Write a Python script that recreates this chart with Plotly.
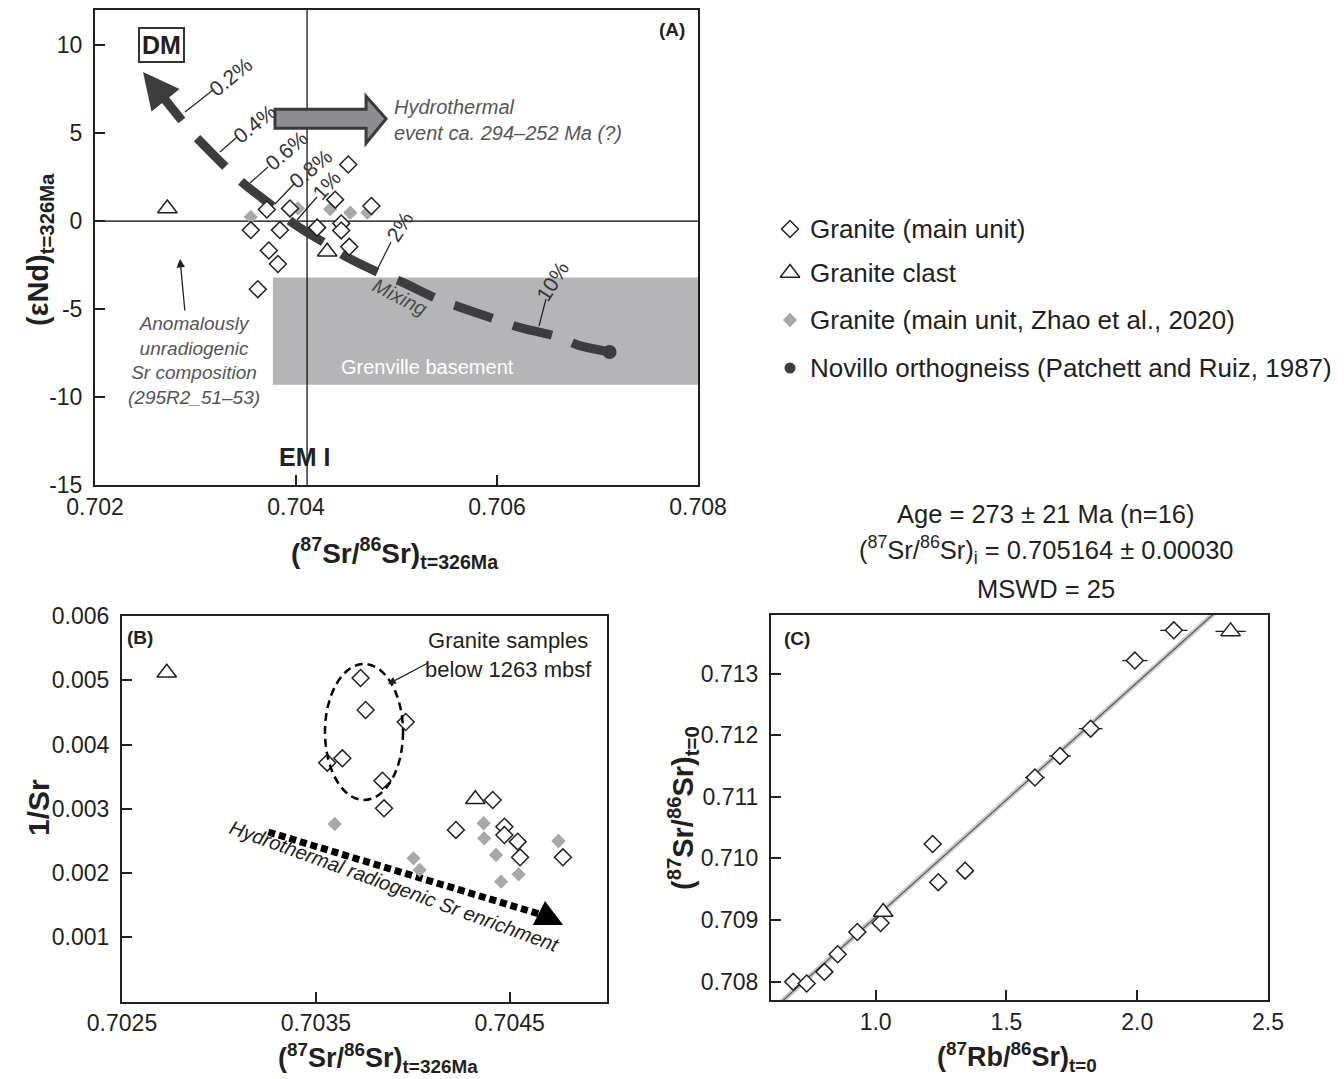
import plotly.graph_objects as go

W, H = 1344, 1079
FONT = "Liberation Sans, Arial, sans-serif"
INK = "#231f20"
DARK = "#3d3d3f"
GREY_PT = "#a8a8aa"
BASEMENT = "#b5b5b7"

# ---------------- data: panel A ----------------
a_main_sr = [0.70452, 0.70439, 0.70475, 0.70371, 0.70394, 0.70355, 0.70384,
             0.70421, 0.70445, 0.70445, 0.70453, 0.70373, 0.70382, 0.70362]
a_main_nd = [3.22, 1.22, 0.86, 0.66, 0.72, -0.51, -0.51,
             -0.37, -0.13, -0.53, -1.46, -1.67, -2.44, -3.87]
a_clast_sr = [0.70272, 0.70431]
a_clast_nd = [0.72, -1.74]
a_zhao_sr = [0.70355, 0.70402, 0.70434, 0.70454, 0.70471]
a_zhao_nd = [0.24, 0.72, 0.68, 0.48, 0.48]
novillo_sr = [0.70712]
novillo_nd = [-7.44]
mix_sr = [0.703015, 0.703313, 0.703473, 0.703791, 0.70397, 0.704318, 0.704507, 0.704856,
          0.705055, 0.705433, 0.705632, 0.70601, 0.706209, 0.706607, 0.706806, 0.707124]
mix_nd = [4.72, 3.01, 2.16, 0.74, -0.11, -1.36, -2.05, -3.01,
          -3.47, -4.49, -4.89, -5.63, -6.02, -6.59, -7.05, -7.44]
dm_arrow_sr = [0.702876, 0.702478]
dm_arrow_nd = [5.63, 8.47]
basement_sr = [0.70377, 0.708]
basement_nd = [-9.3, -3.2]
emi_sr = 0.70411
a_xticks = [0.702, 0.704, 0.706, 0.708]
a_yticks = [-15, -10, -5, 0, 5, 10]

# ---------------- data: panel B ----------------
b_main_sr = [0.703559, 0.703637, 0.703731, 0.703757, 0.703964, 0.703844, 0.703852,
             0.704413, 0.704223, 0.704473, 0.704473, 0.704542, 0.704554, 0.704775]
b_main_inv = [0.003717, 0.003785, 0.005035, 0.004537, 0.00435, 0.003437, 0.003007,
              0.003136, 0.00267, 0.00272, 0.00259, 0.002488, 0.002244, 0.002244]
b_clast_sr = [0.702731, 0.704323]
b_clast_inv = [0.005118, 0.003147]
b_zhao_sr = [0.703598, 0.704004, 0.704036, 0.704366, 0.704369, 0.70443, 0.704456, 0.704547, 0.704752]
b_zhao_inv = [0.002763, 0.002229, 0.002047, 0.002774, 0.00254, 0.00228, 0.001865, 0.00198, 0.002498]
b_trend_sr = [0.703255, 0.704704]
b_trend_inv = [0.002638, 0.001315]
b_xticks = [0.7025, 0.7035, 0.7045]
b_yticks = [0.001, 0.002, 0.003, 0.004, 0.005, 0.006]

# ---------------- data: panel C ----------------
c_main_rb = [0.685, 0.7365, 0.804, 0.855, 0.93, 1.019, 1.218, 1.2395, 1.342,
             1.609, 1.705, 1.822, 1.991, 2.14]
c_main_sr = [0.707995, 0.707968, 0.708157, 0.708442, 0.708804, 0.70895, 0.710233, 0.709613, 0.7098,
             0.711312, 0.711662, 0.712105, 0.71321, 0.713701]
c_main_err = [0.03, 0.03, 0.03, 0.03, 0.03, 0.03, 0.03, 0.03, 0.03,
              0.038, 0.042, 0.045, 0.048, 0.052]
c_clast_rb = [1.029, 2.357]
c_clast_sr = [0.709128, 0.713684]
c_clast_err = [0.03, 0.058]
isochron_rb = [0.6, 2.5]
isochron_sr = [0.70752, 0.71476]
c_xticks = [1.0, 1.5, 2.0, 2.5]
c_yticks = [0.708, 0.709, 0.710, 0.711, 0.712, 0.713]

legend_labels = ["Granite (main unit)", "Granite clast",
                 "Granite (main unit, Zhao et al., 2020)",
                 "Novillo orthogneiss (Patchett and Ruiz, 1987)"]


def px(x):
    return x / W


def py(y):
    return 1 - y / H


open_diamond = dict(symbol="diamond", size=13, color="white", line=dict(color=INK, width=1.5))
open_tri = dict(symbol="triangle-up", size=17, color="white", line=dict(color=INK, width=1.5))
grey_diamond = dict(symbol="diamond", size=11, color=GREY_PT, line=dict(width=0))

fig = go.Figure()

# ---- Panel A ----
fig.add_trace(go.Scatter(x=mix_sr, y=mix_nd, mode="lines", xaxis="x", yaxis="y",
                         line=dict(color=DARK, width=9, dash="40px,22px", shape="spline"),
                         hoverinfo="skip", showlegend=False))
fig.add_trace(go.Scatter(x=novillo_sr, y=novillo_nd, mode="markers", xaxis="x", yaxis="y",
                         marker=dict(symbol="circle", size=14, color=DARK), showlegend=False))
fig.add_trace(go.Scatter(x=a_zhao_sr, y=a_zhao_nd, mode="markers", xaxis="x", yaxis="y",
                         marker=grey_diamond, showlegend=False))
fig.add_trace(go.Scatter(x=a_main_sr, y=a_main_nd, mode="markers", xaxis="x", yaxis="y",
                         marker=open_diamond, showlegend=False))
fig.add_trace(go.Scatter(x=a_clast_sr, y=a_clast_nd, mode="markers", xaxis="x", yaxis="y",
                         marker=open_tri, showlegend=False))

# ---- Panel B ----
fig.add_trace(go.Scatter(x=b_trend_sr, y=b_trend_inv, mode="lines", xaxis="x2", yaxis="y2",
                         line=dict(color="black", width=7, dash="7px,4px"),
                         hoverinfo="skip", showlegend=False))
fig.add_trace(go.Scatter(x=b_zhao_sr, y=b_zhao_inv, mode="markers", xaxis="x2", yaxis="y2",
                         marker=grey_diamond, showlegend=False))
fig.add_trace(go.Scatter(x=b_main_sr, y=b_main_inv, mode="markers", xaxis="x2", yaxis="y2",
                         marker=open_diamond, showlegend=False))
fig.add_trace(go.Scatter(x=b_clast_sr, y=b_clast_inv, mode="markers", xaxis="x2", yaxis="y2",
                         marker=open_tri, showlegend=False))

# ---- Panel C ----
fig.add_trace(go.Scatter(x=isochron_rb, y=isochron_sr, mode="lines", xaxis="x3", yaxis="y3",
                         line=dict(color="#cacaca", width=5), hoverinfo="skip", showlegend=False))
fig.add_trace(go.Scatter(x=isochron_rb, y=isochron_sr, mode="lines", xaxis="x3", yaxis="y3",
                         line=dict(color="#555555", width=1.2), hoverinfo="skip", showlegend=False))
fig.add_trace(go.Scatter(x=c_main_rb, y=c_main_sr, mode="markers", xaxis="x3", yaxis="y3",
                         error_x=dict(type="data", array=c_main_err, color=INK, thickness=1.3, width=0),
                         marker=open_diamond, showlegend=False))
fig.add_trace(go.Scatter(x=c_clast_rb, y=c_clast_sr, mode="markers", xaxis="x3", yaxis="y3",
                         error_x=dict(type="data", array=c_clast_err, color=INK, thickness=1.3, width=0),
                         marker=open_tri, showlegend=False))

# ---- Manual legend (overlay axis in pixel units) ----
leg_y = [229, 273, 320, 368]
leg_markers = [open_diamond, open_tri, grey_diamond,
               dict(symbol="circle", size=11, color=DARK)]
for yy, mk in zip(leg_y, leg_markers):
    fig.add_trace(go.Scatter(x=[790], y=[yy], mode="markers", xaxis="x4", yaxis="y4",
                             marker=mk, showlegend=False, hoverinfo="skip"))

axis_common = dict(showline=True, linewidth=2, linecolor=INK, mirror=True, ticks="inside",
                   ticklen=10, tickwidth=1.5, tickcolor=INK, showgrid=False, zeroline=False,
                   tickfont=dict(family=FONT, size=23, color=INK), automargin=False)
xcommon = dict(axis_common, ticklabelstandoff=0)
ycommon = dict(axis_common, ticklabelstandoff=6)

fig.update_layout(
    width=W, height=H, margin=dict(l=0, r=0, t=0, b=0, pad=0, autoexpand=False),
    paper_bgcolor="white", plot_bgcolor="rgba(0,0,0,0)",
    font=dict(family=FONT, color=INK),
    showlegend=False,
    xaxis=dict(domain=[px(95), px(698)], range=[0.702, 0.708], anchor="y",
               tickvals=a_xticks, ticktext=[f"{v:.3f}" for v in a_xticks], **xcommon),
    yaxis=dict(domain=[py(485), py(10)], range=[-15, 12], anchor="x",
               tickvals=a_yticks, ticktext=[str(v) for v in a_yticks], **ycommon),
    xaxis2=dict(domain=[px(122), px(606.5)], range=[0.7025, 0.705], anchor="y2",
                tickvals=b_xticks, ticktext=[f"{v:.4f}" for v in b_xticks], **xcommon),
    yaxis2=dict(domain=[py(1001.5), py(616)], range=[0, 0.006], anchor="x2",
                tickvals=b_yticks, ticktext=[f"{v:.3f}" for v in b_yticks], **ycommon),
    xaxis3=dict(domain=[px(771), px(1268)], range=[0.6, 2.5], anchor="y3",
                tickvals=c_xticks, ticktext=[f"{v:.1f}" for v in c_xticks], **xcommon),
    yaxis3=dict(domain=[py(1000), py(615)], range=[0.7077, 0.71395], anchor="x3",
                tickvals=c_yticks, ticktext=[f"{v:.3f}" for v in c_yticks], **ycommon),
    xaxis4=dict(domain=[0, 1], range=[0, W], visible=False, anchor="y4", fixedrange=True,
                automargin=False),
    yaxis4=dict(domain=[0, 1], range=[H, 0], visible=False, anchor="x4", fixedrange=True,
                automargin=False),
)

shapes = []
# Grenville basement box
shapes.append(dict(type="rect", xref="x", yref="y", x0=basement_sr[0], x1=basement_sr[1],
                   y0=basement_nd[0], y1=basement_nd[1], fillcolor=BASEMENT,
                   line=dict(width=0), layer="below"))
# reference lines
shapes.append(dict(type="line", xref="x", yref="y", x0=emi_sr, x1=emi_sr, y0=-15, y1=12,
                   line=dict(color="black", width=1.2), layer="below"))
shapes.append(dict(type="line", xref="x", yref="y", x0=0.702, x1=0.708, y0=0, y1=0,
                   line=dict(color="black", width=1.2), layer="below"))
# hydrothermal block arrow
hx0, hx1, hxt = 0.703791, 0.704697, 0.704896
hyt, hyb, hym, hht, hhb = 6.36, 5.28, 5.82, 7.10, 4.43
shapes.append(dict(type="path", xref="x", yref="y",
                   path=f"M {hx0},{hyt} L {hx1},{hyt} L {hx1},{hht} L {hxt},{hym} "
                        f"L {hx1},{hhb} L {hx1},{hyb} L {hx0},{hyb} Z",
                   fillcolor="#8e8e90", line=dict(color="#3a3a3c", width=3)))
# percent leader lines (pixel positions of the reference)
pct_labels = [
    ("0.2%", 231, 77, -39, 185, 112, 213, 90),
    ("0.4%", 255, 124, -39, 220, 152, 237, 137),
    ("0.6%", 286, 150, -41, 250, 183, 268, 167),
    ("0.8%", 311, 169, -40, 275, 204, 295, 183),
    ("1%", 326, 185, -48, 297, 220, 317, 197),
    ("2%", 400, 227, -58, 378, 268, 391, 242),
    ("10%", 552, 281, -58, 539, 326, 546, 299),
]
for t, tx, ty, ang, x0, y0, x1, y1 in pct_labels:
    shapes.append(dict(type="line", xref="paper", yref="paper", x0=px(x0), y0=py(y0),
                       x1=px(x1), y1=py(y1), line=dict(color=INK, width=1.2)))
# Panel B dashed ellipse
shapes.append(dict(type="circle", xref="paper", yref="paper", x0=px(325), x1=px(403),
                   y0=py(800), y1=py(664), line=dict(color="black", width=2.5, dash="8px,5px")))
fig.update_layout(shapes=shapes)

ann = []


def text(x, y, s, size, angle=0, italic=False, color=INK, xanchor="center", align="center",
         bold=False):
    if bold:
        s = f"<b>{s}</b>"
    if italic:
        s = f"<i>{s}</i>"
    ann.append(dict(x=px(x), y=py(y), xref="paper", yref="paper", text=s, showarrow=False,
                    textangle=angle, xanchor=xanchor, yanchor="middle", align=align,
                    font=dict(family=FONT, size=size, color=color)))


def arrow(x, y, ax, ay, width, color, head=2, size=1.0, xref="x4", yref="y4"):
    ann.append(dict(x=x, y=y, ax=ax, ay=ay, xref=xref, yref=yref, axref=xref, ayref=yref,
                    text="", showarrow=True, arrowhead=head, arrowsize=size,
                    arrowwidth=width, arrowcolor=color, standoff=0, startstandoff=0))


# Panel A annotations
arrow(dm_arrow_sr[1], dm_arrow_nd[1], dm_arrow_sr[0], dm_arrow_nd[0], 9, DARK, head=2, size=0.8,
      xref="x", yref="y")
ann.append(dict(x=px(138), y=py(27), xref="paper", yref="paper", text="<b>DM</b>",
                showarrow=False, bordercolor="#333333", borderwidth=2, borderpad=2,
                bgcolor="white", font=dict(family=FONT, size=25, color=INK)))
for t, tx, ty, ang, *_ in pct_labels:
    text(tx, ty, t, 21, angle=ang, color="#333333")
text(400, 297, "Mixing", 20, angle=27, italic=True, color="#4a4a4a")
text(392, 120, "Hydrothermal<br>event ca. 294–252 Ma (?)", 20, italic=True, color="#555555",
     xanchor="left", align="left")
text(194, 360, "Anomalously<br>unradiogenic<br>Sr composition<br>(295R2_51–53)", 19,
     italic=True, color="#555555")
arrow(180, 259, 185, 312, 1.3, INK, head=2, size=1.3)
text(427, 367, "Grenville basement", 20, color="white")
text(304, 457, "EM I", 25, bold=True)
text(672, 30, "(A)", 19, bold=True)
text(40, 250, "(εNd)<sub>t=326Ma</sub>", 29, angle=-90, bold=True)
text(395, 553, "(<sup>87</sup>Sr/<sup>86</sup>Sr)<sub>t=326Ma</sub>", 28, bold=True)

# legend texts
for yy, lab in zip(leg_y, legend_labels):
    text(808, yy, lab, 26, xanchor="left", align="left")

# Panel B annotations
text(140, 637, "(B)", 19, bold=True)
text(508, 655, "Granite samples<br>below 1263 mbsf", 22)
arrow(388, 684, 430, 662, 1.3, INK, head=2, size=1.2)
arrow(0.704776, 0.00119, 0.70468, 0.001335, 3, "black", head=2, size=1.8, xref="x2", yref="y2")
text(394, 886, "Hydrothermal radiogenic Sr enrichment", 20, angle=20, italic=True)
text(38, 808, "1/Sr", 30, angle=-90, bold=True)
text(378, 1058, "(<sup>87</sup>Sr/<sup>86</sup>Sr)<sub>t=326Ma</sub>", 27, bold=True)

# Panel C annotations
text(797, 638, "(C)", 19, bold=True)
text(1046, 514, "Age = 273 ± 21 Ma (n=16)", 25.5)
text(1046, 550, "(<sup>87</sup>Sr/<sup>86</sup>Sr)<sub>i</sub> = 0.705164 ± 0.00030", 25.5)
text(1046, 589, "MSWD = 25", 25.5)
text(683, 808, "(<sup>87</sup>Sr/<sup>86</sup>Sr)<sub>t=0</sub>", 29, angle=-90, bold=True)
text(1017, 1057, "(<sup>87</sup>Rb/<sup>86</sup>Sr)<sub>t=0</sub>", 27, bold=True)

fig.update_layout(annotations=ann)
fig.write_html("out.html")
